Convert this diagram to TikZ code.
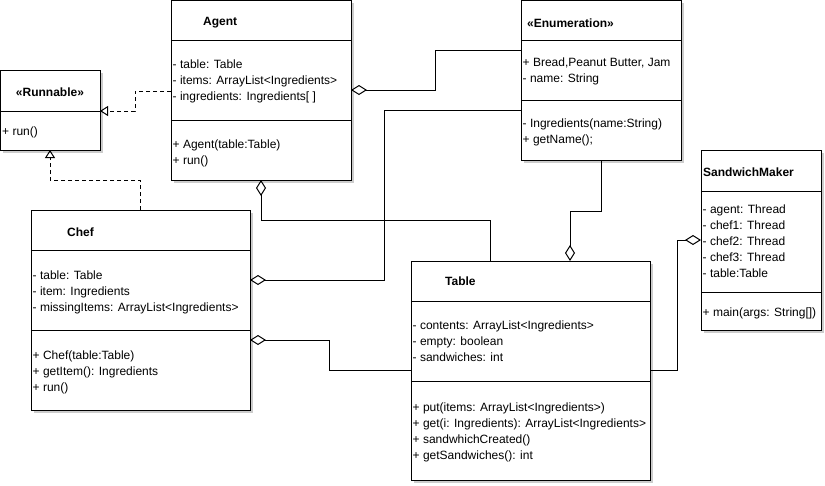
\documentclass[tikz,border=0pt]{standalone}
\usepackage{fontspec}
\setmainfont{Liberation Sans}
\usetikzlibrary{arrows.meta,calc}

% class box with drop shadow: name, x, y, width, height
\newcommand\umlbox[5]{%
  \fill[boxshadow] (#2+3,#3+3) rectangle ++(#4,#5);
  \node[classbox, minimum width=#4pt, minimum height=#5pt] (#1) at (#2,#3) {};
}
% compartment separator: box name, offset from top
\newcommand\umldivider[2]{%
  \draw[rule] ($(#1.north west)+(0,#2)$) -- ($(#1.north east)+(0,#2)$);
}
% list of members: name prefix, x, first baseline, entries
\newcommand\umlmembers[4]{%
  \foreach \mtext [count=\k] in {#4} {
    \node[member] (#1\k) at (#2,#3+16*\k-16) {\mtext};
  }
}

\begin{document}
\begin{tikzpicture}[x=1pt,y=-1pt,
  boxshadow/.style={fill=black!20},
  classbox/.style={draw, line width=1pt, fill=white, anchor=north west,
    inner sep=0pt, outer sep=0pt},
  rule/.style={line width=1pt},
  member/.style={anchor=base west, inner sep=0pt,
    font=\fontsize{12}{14}\selectfont},
  title/.style={member, font=\fontsize{12}{14}\selectfont\bfseries},
  realize/.style={line width=1pt, dash pattern=on 4pt off 3pt,
    -{Triangle[open, length=8pt, width=10pt]}},
  aggregate/.style={line width=1pt,
    {Diamond[open, length=16pt, width=10pt]}-}]

\useasboundingbox (0,0) rectangle (825,485);

% Runnable interface
\umlbox{runnable}{0}{70}{100}{80}
\umldivider{runnable}{41}
\node[title, anchor=base] (runnableT) at (50,96) {«Runnable»};
\umlmembers{runnableM}{2}{135}{+ run()}

% Agent
\umlbox{agent}{171}{0}{180}{180}
\umldivider{agent}{40}
\umldivider{agent}{120}
\node[title] (agentT) at (203,25) {Agent};
\umlmembers{agentA}{172.5}{68}{- table: Table, - items: ArrayList<Ingredients>, - ingredients: Ingredients[ ]}
\umlmembers{agentM}{172.5}{148}{+ Agent(table:Table), + run()}

% Ingredients enumeration
\umlbox{enum}{521}{0}{160}{160}
\umldivider{enum}{40}
\umldivider{enum}{100}
\node[title] (enumT) at (527,27) {«Enumeration»};
\umlmembers{enumA}{522.5}{66}{{+ Bread,Peanut Butter, Jam}, - name: String}
\umlmembers{enumM}{522.5}{127}{- Ingredients(name:String), + getName();}

% Chef
\umlbox{chef}{31}{210}{219}{200}
\umldivider{chef}{40}
\umldivider{chef}{120}
\node[title] (chefT) at (67,236) {Chef};
\umlmembers{chefA}{32.5}{279}{- table: Table, - item: Ingredients, - missingItems: ArrayList<Ingredients>}
\umlmembers{chefM}{32.5}{359}{+ Chef(table:Table), + getItem(): Ingredients, + run()}

% Table
\umlbox{table}{411}{261}{239}{219}
\umldivider{table}{40}
\umldivider{table}{120}
\node[title] (tableT) at (445,285) {Table};
\umlmembers{tableA}{412.5}{329}{- contents: ArrayList<Ingredients>, - empty: boolean, - sandwiches: int}
\umlmembers{tableM}{412.5}{411}{+ put(items: ArrayList<Ingredients>), + get(i: Ingredients): ArrayList<Ingredients>, + sandwhichCreated(), + getSandwiches(): int}

% SandwichMaker
\umlbox{sm}{701}{150}{120}{180}
\umldivider{sm}{41}
\umldivider{sm}{142}
\node[title] (smT) at (703,176) {SandwichMaker};
\umlmembers{smA}{702.5}{213}{- agent: Thread, - chef1: Thread, - chef2: Thread, - chef3: Thread, - table:Table}
\umlmembers{smM}{702.5}{316}{+ main(args: String[])}

% realizations of Runnable
\draw[realize] ($(agent.north west)+(0,91)$) -- ++(-36,0) -- ++(0,20)
  -- ($(runnable.north east)+(0,41)$);
\draw[realize] ($(chef.north west)+(109,0)$) -- ++(0,-30) -| (runnable.south);

% aggregations
\draw[aggregate] ($(agent.north east)+(0,90)$) -- ++(84,0)
  |- ($(enum.north west)+(0,50)$);
\draw[aggregate] ($(chef.north east)+(0,70)$) -- ++(134,0)
  |- ($(enum.north west)+(0,110)$);
\draw[aggregate] (agent.south) -- ++(0,40) -| ($(table.north west)+(79,0)$);
\draw[aggregate] ($(table.north west)+(159,0)$) -- ++(0,-50) -| (enum.south);
\draw[aggregate] ($(chef.north east)+(0,130)$) -- ++(79,0)
  |- ($(table.north west)+(0,109)$);
\draw[aggregate] ($(sm.north west)+(0,90)$) -- ++(-24,0)
  |- ($(table.north east)+(0,109)$);

\end{tikzpicture}
\end{document}
